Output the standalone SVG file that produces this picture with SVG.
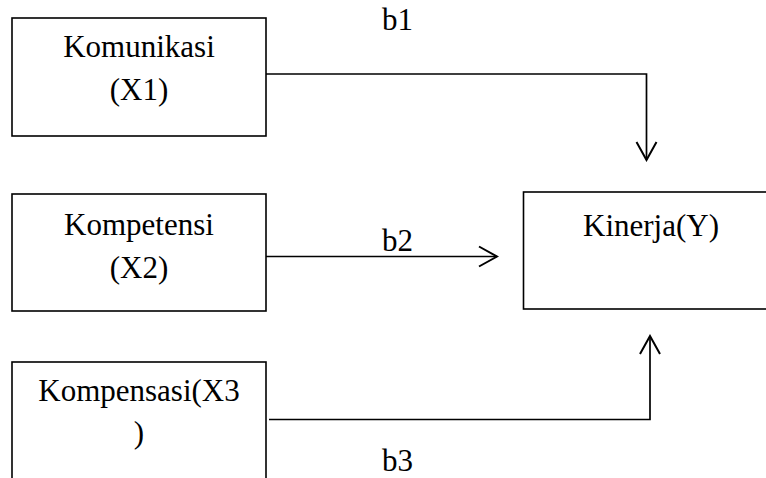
<svg xmlns="http://www.w3.org/2000/svg" width="766" height="478" viewBox="0 0 766 478">
  <style>
    .box { fill: #ffffff; stroke: #000000; stroke-width: 1.6; }
    .t { font-family: 'Liberation Serif', 'DejaVu Serif', serif; font-size: 31px; fill: #000000; }
    .c { text-anchor: middle; }
    .conn { fill: none; stroke: #000000; stroke-width: 1.7; }
  </style>
  <defs>
    <marker id="arrow" viewBox="-21 -12 23 24" markerWidth="23" markerHeight="24" refX="0" refY="0" orient="auto" markerUnits="userSpaceOnUse">
      <path d="M-18,-10 L0,0 L-18,10" fill="none" stroke="#000000" stroke-width="2" stroke-linejoin="miter"/>
    </marker>
  </defs>
  <rect width="766" height="478" fill="#ffffff"/>

  <g id="node-x1">
    <rect class="box" x="12" y="18" width="254" height="118"/>
    <text class="t c" x="139" y="57" font-family="Liberation Serif">Komunikasi</text>
    <text class="t c" x="139" y="100" font-family="Liberation Serif">(X1)</text>
  </g>

  <g id="node-x2">
    <rect class="box" x="12" y="194" width="254" height="117"/>
    <text class="t c" x="139" y="235">Kompetensi</text>
    <text class="t c" x="139" y="278">(X2)</text>
  </g>

  <g id="node-x3">
    <rect class="box" x="12" y="362" width="254" height="130"/>
    <text class="t c" x="139" y="401">Kompensasi(X3</text>
    <text class="t c" x="139" y="443">)</text>
  </g>

  <g id="node-y">
    <rect class="box" x="523.5" y="192" width="256" height="117"/>
    <text class="t c" x="651" y="236">Kinerja(Y)</text>
  </g>

  <g id="connectors">
    <path class="conn" d="M266,74 H646.5 V160" marker-end="url(#arrow)"/>
    <path class="conn" d="M266,256.5 H497" marker-end="url(#arrow)"/>
    <path class="conn" d="M269,419.5 H650 V336" marker-end="url(#arrow)"/>
    <text class="t" x="382" y="30">b1</text>
    <text class="t" x="382" y="251">b2</text>
    <text class="t" x="382" y="471">b3</text>
  </g>
</svg>
